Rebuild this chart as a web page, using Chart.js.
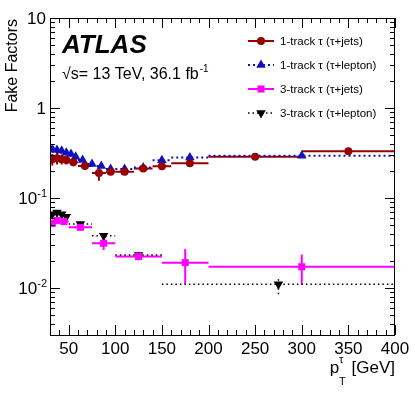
<!DOCTYPE html>
<html>
<head>
<meta charset="utf-8">
<script src="https://cdn.jsdelivr.net/npm/chart.js@4.4.1/dist/chart.umd.min.js"></script>
<style>
  body { margin: 0; background: #fff; }
  #wrap { width: 415px; height: 399px; }
</style>
</head>
<body>
<div id="wrap"><canvas id="ffChart"></canvas></div>
<script>
// 1-track tau (tau+jets): bin edges, values, errors
const oneJetsLo  = [30, 35, 40, 45, 50, 60, 75, 90, 100, 120, 140, 160, 200, 300];
const oneJetsHi  = [35, 40, 45, 50, 60, 75, 90, 100, 120, 140, 160, 200, 300, 400];
const oneJetsVal = [0.27, 0.276, 0.27, 0.265, 0.25, 0.227, 0.19, 0.196, 0.196, 0.213, 0.225, 0.243, 0.288, 0.33];
const oneJetsErr = [0.04, 0.04, 0.035, 0.03, 0.025, 0.02, 0.035, 0.015, 0.012, 0.01, 0.01, 0.01, 0.008, 0.008];

// 1-track tau (tau+lepton)
const oneLepLo  = [30, 35, 40, 45, 50, 55, 60, 70, 80, 90, 100, 120, 140, 160, 200];
const oneLepHi  = [35, 40, 45, 50, 55, 60, 70, 80, 90, 100, 120, 140, 160, 200, 400];
const oneLepVal = [0.348, 0.341, 0.335, 0.319, 0.308, 0.288, 0.264, 0.239, 0.227, 0.21, 0.21, 0.218, 0.262, 0.281, 0.295];
const oneLepErr = [0.03, 0.025, 0.025, 0.02, 0.02, 0.02, 0.015, 0.015, 0.012, 0.012, 0.01, 0.01, 0.02, 0.015, 0.012];

// 3-track tau (tau+jets)
const threeJetsLo  = [30, 35, 40, 50, 75, 100, 150, 200];
const threeJetsHi  = [35, 40, 50, 75, 100, 150, 200, 400];
const threeJetsVal = [0.0523, 0.056, 0.0546, 0.0472, 0.0314, 0.0223, 0.0191, 0.0172];
const threeJetsErr = [0.005, 0.004, 0.003, 0.003, 0.005, 0.0015, 0.008, 0.0063];

// 3-track tau (tau+lepton)
const threeLepLo  = [30, 35, 40, 45, 50, 75, 100, 150];
const threeLepHi  = [35, 40, 45, 50, 75, 100, 150, 400];
const threeLepVal = [0.066, 0.069, 0.066, 0.062, 0.0515, 0.038, 0.0233, 0.011];
const threeLepErr = [0.004, 0.004, 0.004, 0.004, 0.003, 0.004, 0.0015, 0.0025];

// axis ticks
const xTickValues = [50, 100, 150, 200, 250, 300, 350, 400];
const yTickExps = [-2, -1, 0, 1];

const FONT = "'Liberation Sans', Arial, Helvetica, sans-serif";

function makeSet(label, lo, hi, val, err, color, style, rot, radius, dash, lw) {
  return {
    label: label,
    data: val.map((v, i) => ({ x: (lo[i] + hi[i]) / 2, y: v })),
    xLo: lo,
    xHi: hi,
    yErr: err,
    showLine: false,
    pointStyle: style,
    rotation: rot,
    pointRadius: radius,
    pointHoverRadius: radius,
    backgroundColor: color,
    borderColor: color,
    pointBorderWidth: 0,
    errDash: dash,
    errWidth: lw,
  };
}

const datasets = [
  makeSet("1-track \u03c4 (\u03c4+jets)", oneJetsLo, oneJetsHi, oneJetsVal, oneJetsErr, "#990000", "circle", 0, 4, [], 2),
  makeSet("1-track \u03c4 (\u03c4+lepton)", oneLepLo, oneLepHi, oneLepVal, oneLepErr, "#1010c0", "triangle", 0, 5.5, [2, 3], 2),
  makeSet("3-track \u03c4 (\u03c4+jets)", threeJetsLo, threeJetsHi, threeJetsVal, threeJetsErr, "#ff00ff", "rect", 0, 5, [], 2),
  makeSet("3-track \u03c4 (\u03c4+lepton)", threeLepLo, threeLepHi, threeLepVal, threeLepErr, "#000000", "triangle", 180, 5.5, [1.5, 3], 1.5),
];

// horizontal bin bars and vertical error bars, drawn under the markers
const errorBars = {
  id: "errorBars",
  beforeDatasetsDraw(chart) {
    const { ctx, scales } = chart;
    const xs = scales.x, ys = scales.y;
    ctx.save();
    chart.data.datasets.forEach((ds) => {
      ctx.strokeStyle = ds.borderColor;
      ctx.lineWidth = ds.errWidth;
      ctx.setLineDash(ds.errDash);
      ds.data.forEach((p, i) => {
        const py = ys.getPixelForValue(p.y);
        const px = xs.getPixelForValue(p.x);
        ctx.beginPath();
        ctx.moveTo(xs.getPixelForValue(ds.xLo[i]), py);
        ctx.lineTo(xs.getPixelForValue(ds.xHi[i]), py);
        ctx.moveTo(px, ys.getPixelForValue(Math.max(p.y - ds.yErr[i], 0.003)));
        ctx.lineTo(px, ys.getPixelForValue(p.y + ds.yErr[i]));
        ctx.stroke();
      });
    });
    ctx.restore();
  },
};

// ROOT style frame, inward ticks, labels, legend and ATLAS text
const rootFrame = {
  id: "rootFrame",
  afterDraw(chart) {
    const { ctx, chartArea: a, scales } = chart;
    const xs = scales.x, ys = scales.y;
    ctx.save();
    ctx.setLineDash([]);
    ctx.strokeStyle = "#000";
    ctx.lineWidth = 1;
    ctx.strokeRect(a.left + 0.5, a.top + 0.5, a.right - a.left - 1, a.bottom - a.top);

    ctx.beginPath();
    for (let v = 30; v <= 400; v += 10) {
      const px = Math.round(xs.getPixelForValue(v)) + 0.5;
      const len = v % 50 === 0 ? 10 : 5;
      ctx.moveTo(px, a.bottom); ctx.lineTo(px, a.bottom - len);
      ctx.moveTo(px, a.top); ctx.lineTo(px, a.top + len);
    }
    for (let e = -3; e <= 1; e++) {
      for (let k = 1; k <= 9; k++) {
        const v = k * Math.pow(10, e);
        if (v < 0.0029 || v > 10.01) continue;
        const py = Math.round(ys.getPixelForValue(v)) + 0.5;
        const len = k === 1 ? 10 : 5;
        ctx.moveTo(a.left, py); ctx.lineTo(a.left + len, py);
        ctx.moveTo(a.right, py); ctx.lineTo(a.right - len, py);
      }
    }
    ctx.stroke();

    ctx.fillStyle = "#000";
    // x tick labels
    ctx.font = "17px " + FONT;
    ctx.textAlign = "center";
    ctx.textBaseline = "alphabetic";
    xTickValues.forEach((v) => {
      ctx.fillText(String(v), xs.getPixelForValue(v), 354);
    });
    // y tick labels
    yTickExps.forEach((e) => {
      const py = ys.getPixelForValue(Math.pow(10, e));
      ctx.textAlign = "right";
      if (e === 0) {
        ctx.font = "17px " + FONT;
        ctx.fillText("1", 46, py + 6);
      } else if (e === 1) {
        ctx.font = "17px " + FONT;
        ctx.fillText("10", 46, py + 6);
      } else {
        ctx.font = "11px " + FONT;
        ctx.fillText(String(e), 47, py - 1);
        const w = ctx.measureText(String(e)).width;
        ctx.font = "17px " + FONT;
        ctx.fillText("10", 47 - w, py + 6);
      }
    });

    // y axis title
    ctx.save();
    ctx.translate(17, a.top + 1);
    ctx.rotate(-Math.PI / 2);
    ctx.font = "16px " + FONT;
    ctx.textAlign = "right";
    ctx.fillText("Fake Factors", 0, 0);
    ctx.restore();

    // x axis title: p_T^tau [GeV], right aligned
    ctx.textAlign = "left";
    ctx.font = "17px " + FONT;
    const tail = " [GeV]";
    const wTail = ctx.measureText(tail).width;
    const wP = ctx.measureText("p").width;
    ctx.font = "11px " + FONT;
    const wSub = ctx.measureText("T").width;
    const xStart = a.right - wTail - wSub - wP - 1;
    ctx.font = "17px " + FONT;
    ctx.fillText("p", xStart, 373);
    ctx.font = "11px " + FONT;
    ctx.fillText("T", xStart + wP, 385);
    ctx.fillText("\u03c4", xStart + wP, 363);
    ctx.font = "17px " + FONT;
    ctx.fillText(tail, xStart + wP + wSub + 1, 373);

    // ATLAS label
    ctx.font = "italic bold 26px " + FONT;
    ctx.fillText("ATLAS", 62, 53);
    ctx.font = "16px " + FONT;
    ctx.fillText("\u221as= 13 TeV, 36.1 fb", 62, 79);
    const wLum = ctx.measureText("\u221as= 13 TeV, 36.1 fb").width;
    ctx.font = "10px " + FONT;
    ctx.fillText("-1", 62 + wLum + 1, 72);

    // legend
    const rows = [41, 65, 89, 113];
    chart.data.datasets.forEach((ds, i) => {
      const y = rows[i];
      ctx.strokeStyle = ds.borderColor;
      ctx.fillStyle = ds.backgroundColor;
      ctx.lineWidth = ds.errWidth;
      ctx.setLineDash(ds.errDash);
      ctx.beginPath();
      ctx.moveTo(248, y);
      ctx.lineTo(274, y);
      ctx.stroke();
      ctx.setLineDash([]);
      Chart.helpers.drawPoint(ctx, {
        pointStyle: ds.pointStyle,
        radius: ds.pointRadius,
        rotation: ds.rotation,
        borderWidth: 0,
      }, 261, y);
      ctx.fillStyle = "#000";
      ctx.font = "11.5px " + FONT;
      ctx.textAlign = "left";
      ctx.textBaseline = "middle";
      ctx.fillText(ds.label, 280, y + 1);
      ctx.textBaseline = "alphabetic";
    });
    ctx.restore();
  },
};

new Chart(document.getElementById("ffChart"), {
  type: "scatter",
  data: { datasets: datasets },
  plugins: [errorBars, rootFrame],
  options: {
    responsive: true,
    maintainAspectRatio: false,
    animation: false,
    layout: { padding: { left: 50, top: 18, right: 20, bottom: 64 } },
    scales: {
      x: { type: "linear", min: 30, max: 400, display: false },
      y: { type: "logarithmic", min: 0.003, max: 10, display: false },
    },
    plugins: {
      legend: { display: false },
      tooltip: { enabled: false },
    },
  },
});
</script>
</body>
</html>
